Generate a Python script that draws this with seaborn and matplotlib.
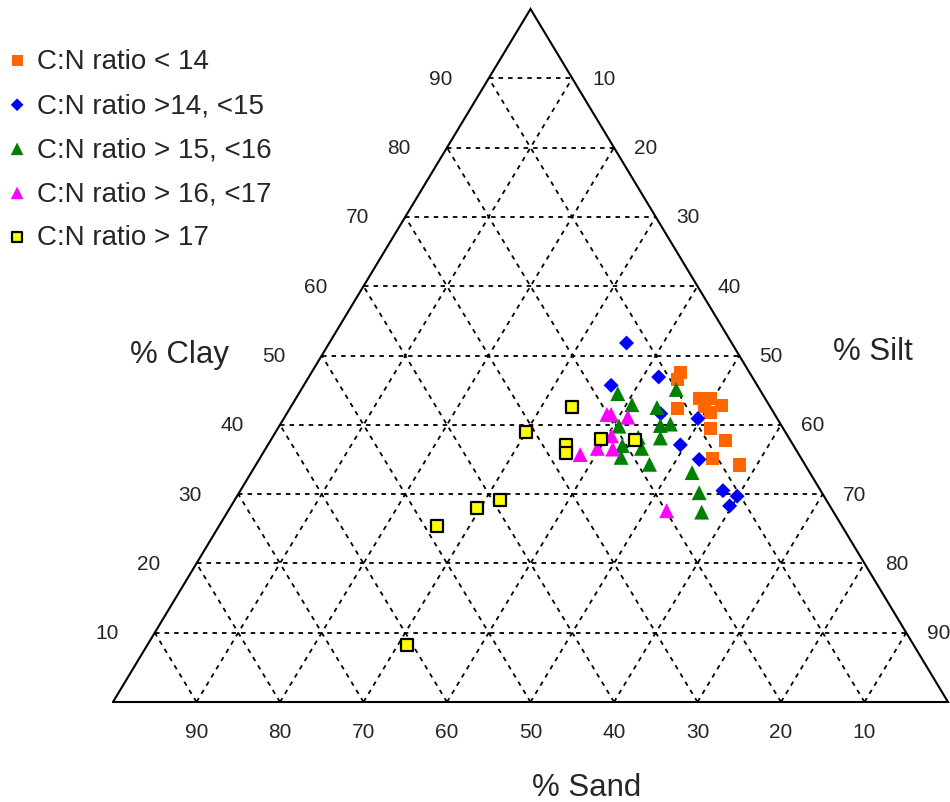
import numpy as np
import pandas as pd
import matplotlib.pyplot as plt
import seaborn as sns

# soil texture (%), grouped by C:N ratio
lt14_clay = [47.6, 46.6, 43.8, 43.8, 42.8, 42.6, 41.8, 42.3, 39.4, 37.8, 35.1, 34.2]
lt14_sand = [8.2, 9.1, 7.9, 6.6, 5.7, 7.9, 7.6, 11.3, 8.8, 7.7, 10.6, 7.9]

r14_15_clay = [51.8, 46.9, 45.7, 41.6, 40.9, 37.1, 35.0, 30.5, 29.7, 28.3]
r14_15_sand = [12.6, 11.2, 17.5, 13.6, 9.5, 13.5, 12.3, 11.7, 10.4, 12.0]

r15_16_clay = [44.5, 45.1, 42.9, 42.5, 39.8, 39.9, 40.1, 38.2, 38.1, 37.0, 36.6, 35.3,
               34.3, 33.1, 30.2, 27.4]
r15_16_sand = [17.3, 10.0, 16.4, 13.6, 19.5, 14.5, 13.2, 18.0, 15.4, 20.5, 18.4, 21.5,
               18.6, 14.1, 14.7, 15.8]

r16_17_clay = [41.5, 41.5, 41.1, 38.4, 36.6, 36.5, 27.6, 35.7]
r16_17_sand = [20.1, 19.6, 17.8, 21.1, 23.7, 21.9, 19.9, 26.2]

gt17_clay = [38.0, 37.8, 42.5, 38.9, 37.1, 35.9, 29.2, 28.0, 25.4, 8.2]
gt17_sand = [22.6, 18.6, 23.8, 31.1, 27.2, 27.8, 39.0, 42.4, 48.5, 60.7]

labels = ['C:N ratio < 14', 'C:N ratio >14, <15', 'C:N ratio > 15, <16',
          'C:N ratio > 16, <17', 'C:N ratio > 17']
ticks = [10, 20, 30, 40, 50, 60, 70, 80, 90]

frames = []
for lab, cl, sa in zip(labels,
                       [lt14_clay, r14_15_clay, r15_16_clay, r16_17_clay, gt17_clay],
                       [lt14_sand, r14_15_sand, r15_16_sand, r16_17_sand, gt17_sand]):
    d = pd.DataFrame({'clay': cl, 'sand': sa})
    d['silt'] = 100 - d['clay'] - d['sand']
    d['group'] = lab
    frames.append(d)
df = pd.concat(frames, ignore_index=True)
# ternary -> cartesian (clay at top, silt bottom right, sand bottom left)
df['x'] = df['silt'] + df['clay'] / 2
df['y'] = df['clay']

sns.set_style('white')
plt.rcParams['font.family'] = ['Liberation Sans', 'DejaVu Sans']

fig = plt.figure(figsize=(9.5, 8.03), dpi=100)
ax = fig.add_axes([113 / 950, 100 / 803, 835 / 950, 693 / 803])
ax.set_xlim(0, 100)
ax.set_ylim(0, 100)
ax.axis('off')

# grid
grid_kw = dict(color='black', lw=1.3, ls=(0, (2.5, 2.8)), zorder=1)
for k in ticks:
    ax.plot([k / 2, 100 - k / 2], [k, k], **grid_kw)                 # clay
    ax.plot([100 - k, (100 - k) / 2], [0, 100 - k], **grid_kw)       # sand
    ax.plot([k, k + (100 - k) / 2], [0, 100 - k], **grid_kw)         # silt

# outline
ax.plot([0, 100, 50, 0], [0, 0, 100, 0], color='black', lw=1.5, zorder=2,
        solid_joinstyle='miter', clip_on=False)

# tick labels
for k in ticks:
    ax.annotate(str(k), xy=(k / 2, k), xytext=(-34.5, 0), textcoords='offset points',
                ha='center', va='center', fontsize=15)
    ax.annotate(str(100 - k), xy=(100 - k / 2, k), xytext=(23, 0),
                textcoords='offset points', ha='center', va='center', fontsize=15)
    ax.annotate(str(k), xy=(100 - k, 0), xytext=(0, -21), textcoords='offset points',
                ha='center', va='center', fontsize=15)

fig.text(180 / 950, 1 - 355 / 803, '% Clay', ha='center', va='center', fontsize=22.5)
fig.text(873 / 950, 1 - 352 / 803, '% Silt', ha='center', va='center', fontsize=22.5)
fig.text(587 / 950, 1 - 788 / 803, '% Sand', ha='center', va='center', fontsize=22.5)

styles = {
    labels[0]: dict(marker='s', color='#FF6600', s=88, edgecolor='none'),
    labels[1]: dict(marker='D', color='#0000FF', s=58, edgecolor='none'),
    labels[2]: dict(marker='^', color='#008000', s=115, edgecolor='none'),
    labels[3]: dict(marker='^', color='#FF00FF', s=115, edgecolor='none'),
    labels[4]: dict(marker='s', color='#FFFF00', s=72, edgecolor='black', linewidth=1.6),
}
for lab in labels:
    sns.scatterplot(data=df[df['group'] == lab], x='x', y='y', ax=ax, label=lab,
                    zorder=3, clip_on=False, **styles[lab])

ax.legend(loc='upper left', bbox_to_anchor=(6 / 950, 1 - 49 / 803),
          bbox_transform=fig.transFigure, frameon=False, fontsize=20,
          handlelength=0.8, handletextpad=0.3, labelspacing=0.65, borderpad=0,
          borderaxespad=0, markerscale=0.85)

fig.savefig('out.png', dpi=100)
